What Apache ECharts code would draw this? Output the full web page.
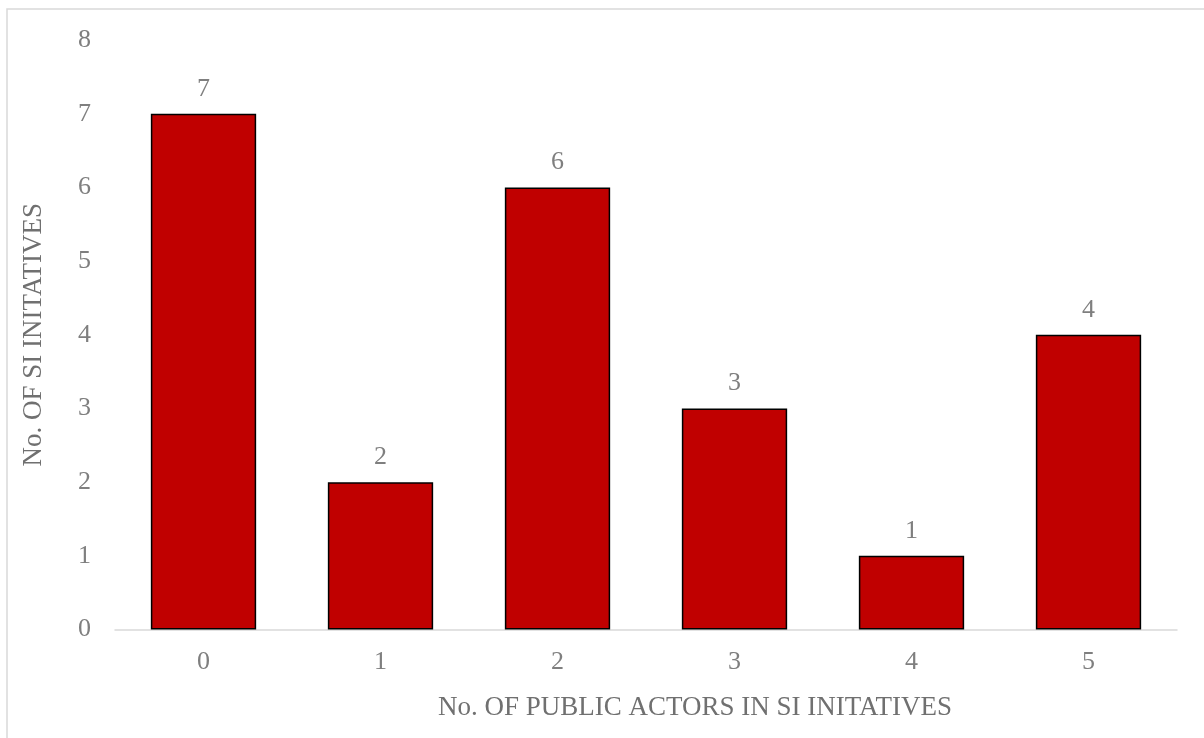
<!DOCTYPE html>
<html>
<head>
<meta charset="utf-8">
<style>
  html, body { margin: 0; padding: 0; background: #ffffff; }
  #chart { width: 1204px; height: 738px; }
</style>
<script src="https://cdn.jsdelivr.net/npm/echarts@6/dist/echarts.min.js"></script>
</head>
<body>
<div id="chart"></div>
<script>
// Number of public actors involved per social-innovation initiative
const actorCounts = ['0', '1', '2', '3', '4', '5'];
const initiativeCounts = [7, 2, 6, 3, 1, 4];
const yTicks = { min: 0, max: 8, interval: 1 };

const xTitle = 'No. OF PUBLIC ACTORS IN SI INITATIVES';
const yTitle = 'No. OF SI INITATIVES';

const serif = '"Liberation Serif", "Times New Roman", serif';
const tickColor = '#7f7f7f';
const titleColor = '#707070';

const chart = echarts.init(document.getElementById('chart'), null, { renderer: 'canvas' });

chart.setOption({
  backgroundColor: '#ffffff',
  animation: false,
  textStyle: { fontFamily: serif },
  graphic: [{
    type: 'rect',
    shape: { x: 7, y: 9, width: 1300, height: 800 },
    style: { fill: 'none', stroke: '#d9d9d9', lineWidth: 1.5 },
    silent: true,
    z: -1
  }],
  grid: { left: 115, right: 27, top: 40, bottom: 108.5, containLabel: false },
  xAxis: {
    type: 'category',
    data: actorCounts,
    name: xTitle,
    nameLocation: 'middle',
    nameGap: 65,
    nameTextStyle: { fontFamily: serif, fontSize: 27, color: titleColor, padding: [0, 0, 0, 98] },
    axisLine: { show: true, lineStyle: { color: '#d9d9d9', width: 1.5 } },
    axisTick: { show: false },
    axisLabel: { fontFamily: serif, fontSize: 26, color: tickColor, margin: 20 },
    splitLine: { show: false }
  },
  yAxis: {
    type: 'value',
    min: yTicks.min,
    max: yTicks.max,
    interval: yTicks.interval,
    name: yTitle,
    nameLocation: 'middle',
    nameGap: 68,
    nameRotate: 90,
    nameTextStyle: { fontFamily: serif, fontSize: 27, color: titleColor },
    axisLine: { show: false },
    axisTick: { show: false },
    axisLabel: { fontFamily: serif, fontSize: 26, color: tickColor, margin: 24 },
    splitLine: { show: false }
  },
  series: [{
    type: 'bar',
    data: initiativeCounts,
    barWidth: '59.5%',
    itemStyle: { color: '#c00000', borderColor: '#000000', borderWidth: 1.5 },
    label: {
      show: true,
      position: 'top',
      distance: 12,
      fontFamily: serif,
      fontSize: 26,
      color: tickColor
    }
  }]
});
</script>
</body>
</html>
